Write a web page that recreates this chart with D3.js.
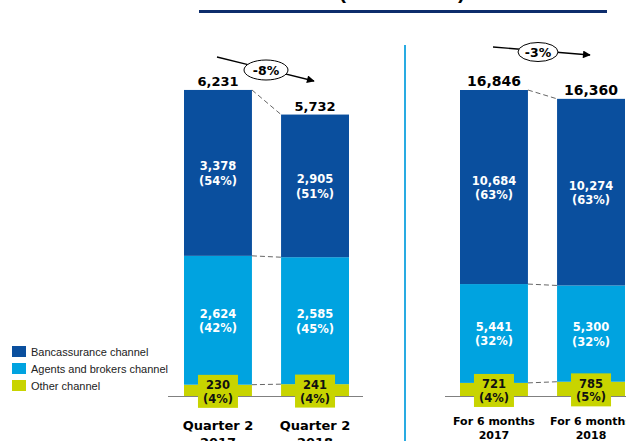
<!DOCTYPE html>
<html>
<head>
<meta charset="utf-8">
<script src="https://cdn.jsdelivr.net/npm/d3@7"></script>
<style>
  html, body { margin: 0; padding: 0; background: #fff; }
  svg { display: block; }
</style>
</head>
<body>
<svg id="chart" width="626" height="441"></svg>
<script>
// channels, bottom to top
const channels = ["other", "agents", "banca"];
const legendLabels = ["Bancassurance channel", "Agents and brokers channel", "Other channel"];
const legendKeys = ["banca", "agents", "other"];

// quarter panel
const categoriesQ = [["Quarter 2", "2017"], ["Quarter 2", "2018"]];
const bancaQ = [3378, 2905];
const agentsQ = [2624, 2585];
const otherQ = [230, 241];
const bancaPctQ = [54, 51];
const agentsPctQ = [42, 45];
const otherPctQ = [4, 4];
const totalsQ = [6231, 5732];
const changeQ = "-8%";

// six month panel
const categories6M = [["For 6 months", "2017"], ["For 6 months", "2018"]];
const banca6M = [10684, 10274];
const agents6M = [5441, 5300];
const other6M = [721, 785];
const bancaPct6M = [63, 63];
const agentsPct6M = [32, 32];
const otherPct6M = [4, 5];
const totals6M = [16846, 16360];
const change6M = "-3%";

const colors = { banca: "#0a4f9e", agents: "#00a3e0", other: "#c8d400" };
const fmt = d3.format(",");
const boldFont = "'DejaVu Sans', Verdana, sans-serif";
const svg = d3.select("#chart");

// title remnant + rule
svg.append("text")
  .attr("x", 402).attr("y", -1)
  .attr("text-anchor", "middle")
  .attr("font-family", "'Liberation Sans', Arial, sans-serif")
  .attr("font-weight", "bold").attr("font-size", 21)
  .attr("fill", "#000")
  .text("(VND billion)");
svg.append("line")
  .attr("x1", 199).attr("x2", 607).attr("y1", 11.5).attr("y2", 11.5)
  .attr("stroke", "#0d2d6c").attr("stroke-width", 3);

// separator
svg.append("line")
  .attr("x1", 405).attr("x2", 405).attr("y1", 45).attr("y2", 441)
  .attr("stroke", "#29abe2").attr("stroke-width", 2);

const drawPanel = ({ cats, banca, agents, other, pcts, totals, change, xRange, axisRange, catSize, catY, totalSize, arrow }) => {
  const rows = cats.map((c, i) => ({ key: c.join(" "), cat: c, banca: banca[i], agents: agents[i], other: other[i], i }));
  const x = d3.scaleBand().domain(rows.map((d) => d.key)).range(xRange).paddingInner(0.3);
  const y = d3.scaleLinear().domain([0, d3.max(totals)]).range([396, 90]);
  const stack = d3.stack().keys(channels)(rows);
  const g = svg.append("g");

  g.append("line")
    .attr("x1", axisRange[0]).attr("x2", axisRange[1])
    .attr("y1", y(0) + 0.5).attr("y2", y(0) + 0.5)
    .attr("stroke", "#808080").attr("stroke-width", 1);

  // connectors at each segment top
  stack.forEach((layer) => {
    g.append("line")
      .attr("x1", x(rows[0].key) + x.bandwidth()).attr("y1", y(layer[0][1]))
      .attr("x2", x(rows[1].key)).attr("y2", y(layer[1][1]))
      .attr("stroke", "#666").attr("stroke-width", 1).attr("stroke-dasharray", "5,3");
  });

  g.selectAll("g.layer")
    .data(stack)
    .join("g")
    .attr("fill", (d) => colors[d.key])
    .selectAll("rect")
    .data((d) => d)
    .join("rect")
    .attr("x", (d) => x(d.data.key))
    .attr("y", (d) => y(d[1]))
    .attr("width", x.bandwidth())
    .attr("height", (d) => y(d[0]) - y(d[1]));

  // value labels
  stack.forEach((layer) => {
    layer.forEach((d) => {
      const cx = x(d.data.key) + x.bandwidth() / 2;
      const mid = (y(d[0]) + y(d[1])) / 2;
      const pct = pcts[layer.key][d.data.i];
      const isOther = layer.key === "other";
      if (isOther) {
        g.append("rect")
          .attr("x", cx - 20).attr("y", mid - 15.5)
          .attr("width", 40).attr("height", 33)
          .attr("fill", colors.other);
      }
      const t = g.append("text")
        .attr("text-anchor", "middle")
        .attr("font-family", boldFont).attr("font-weight", "bold")
        .attr("font-size", 11.5)
        .attr("fill", isOther ? "#111" : "#fff");
      t.append("tspan").attr("x", cx).attr("y", isOther ? mid - 1 : mid - 2.5).text(fmt(d.data[layer.key]));
      t.append("tspan").attr("x", cx).attr("y", isOther ? mid + 12.5 : mid + 12).text(`(${pct}%)`);
    });
  });

  // totals
  g.selectAll("text.total")
    .data(rows)
    .join("text")
    .attr("class", "total")
    .attr("x", (d) => x(d.key) + x.bandwidth() / 2)
    .attr("y", (d) => y(totals[d.i]) - 4)
    .attr("text-anchor", "middle")
    .attr("font-family", boldFont).attr("font-weight", "bold")
    .attr("font-size", totalSize).attr("fill", "#000")
    .text((d) => fmt(totals[d.i]));

  // category labels
  rows.forEach((d) => {
    const t = g.append("text")
      .attr("text-anchor", "middle")
      .attr("font-family", boldFont).attr("font-weight", "bold")
      .attr("font-size", catSize).attr("fill", "#000");
    const cx = x(d.key) + x.bandwidth() / 2;
    t.append("tspan").attr("x", cx).attr("y", catY[0]).text(d.cat[0]);
    t.append("tspan").attr("x", cx).attr("y", catY[1]).text(d.cat[1]);
  });

  // change arrow
  g.append("line")
    .attr("x1", arrow.x1).attr("y1", arrow.y1)
    .attr("x2", arrow.x2).attr("y2", arrow.y2)
    .attr("stroke", "#000").attr("stroke-width", 1.3)
    .attr("marker-end", "url(#arrowhead)");
  g.append("ellipse")
    .attr("cx", arrow.cx).attr("cy", arrow.cy)
    .attr("rx", arrow.rx).attr("ry", arrow.ry)
    .attr("fill", "#fff").attr("stroke", "#000").attr("stroke-width", 1);
  g.append("text")
    .attr("x", arrow.cx).attr("y", arrow.cy + 4.5)
    .attr("text-anchor", "middle")
    .attr("font-family", boldFont).attr("font-weight", "bold")
    .attr("font-size", 12.5).attr("fill", "#000")
    .text(change);
};

svg.append("defs").append("marker")
  .attr("id", "arrowhead")
  .attr("viewBox", "0 0 10 10")
  .attr("refX", 9).attr("refY", 5)
  .attr("markerWidth", 7).attr("markerHeight", 6)
  .attr("orient", "auto")
  .append("path")
  .attr("d", "M0,0L10,5L0,10z")
  .attr("fill", "#000");

drawPanel({
  cats: categoriesQ, banca: bancaQ, agents: agentsQ, other: otherQ,
  pcts: { banca: bancaPctQ, agents: agentsPctQ, other: otherPctQ },
  totals: totalsQ, change: changeQ,
  xRange: [184, 349], axisRange: [168, 363], catSize: 13, catY: [430, 447], totalSize: 13,
  arrow: { x1: 217, y1: 57, x2: 314, y2: 81, cx: 266, cy: 70, rx: 22, ry: 10 },
});

drawPanel({
  cats: categories6M, banca: banca6M, agents: agents6M, other: other6M,
  pcts: { banca: bancaPct6M, agents: agentsPct6M, other: otherPct6M },
  totals: totals6M, change: change6M,
  xRange: [460, 625], axisRange: [445, 626], catSize: 11, catY: [425, 438.5], totalSize: 14,
  arrow: { x1: 493, y1: 47, x2: 590, y2: 55, cx: 538, cy: 52, rx: 20, ry: 9.5 },
});

// legend
const legend = svg.append("g").attr("transform", "translate(12,346)");
const legendG = legend.selectAll("g")
  .data(legendKeys)
  .join("g")
  .attr("transform", (_, i) => `translate(0,${i * 17})`);
legendG.append("rect")
  .attr("width", 14).attr("height", 11)
  .attr("fill", (d) => colors[d]);
legendG.append("text")
  .attr("x", 19).attr("y", 9.5)
  .attr("font-family", "'Liberation Sans', Arial, sans-serif")
  .attr("font-size", 11).attr("fill", "#222")
  .text((_, i) => legendLabels[i]);
</script>
</body>
</html>
